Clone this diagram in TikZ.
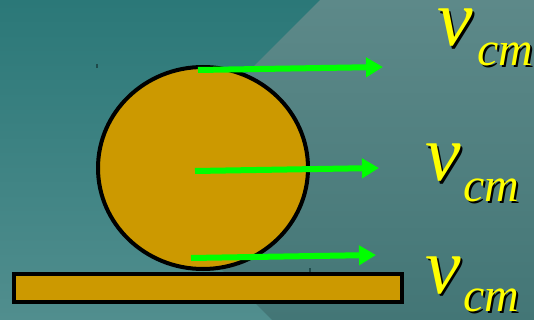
\documentclass[tikz,border=0pt]{standalone}
\usepackage{fontspec}
\setmainfont{Liberation Serif}
\usetikzlibrary{arrows.meta,shapes.geometric}
\definecolor{bgtop}{HTML}{2B7878}
\definecolor{bgbot}{HTML}{518E8E}
\definecolor{lttop}{HTML}{5D8989}
\definecolor{ltbot}{HTML}{437676}
\definecolor{gold}{HTML}{CC9900}
\definecolor{arrowgreen}{HTML}{00FF00}
\definecolor{labelyellow}{HTML}{FFFF00}
\definecolor{tickcol}{HTML}{1E4A4A}
\begin{document}
\begin{tikzpicture}[x=1pt,y=-1pt,
  vtxt/.style={anchor=base west, inner sep=0pt, font=\fontsize{80}{80}\selectfont\itshape},
  subtxt/.style={anchor=base west, inner sep=0pt, font=\fontsize{48}{48}\selectfont\itshape},
  vel/.style={draw=arrowgreen, line width=6pt, -{Triangle[length=17pt,width=19pt]}},
  goldshape/.style={draw=black, fill=gold, line width=4pt},
  tick/.style={draw=tickcol, line width=1.2pt}]
% background
\useasboundingbox (0,0) rectangle (534,320);
\shade[top color=bgtop, bottom color=bgbot] (0,0) rectangle (534,320);
\shade[top color=lttop, bottom color=ltbot] (320,0) -- (534,0) -- (534,320) -- (272,320) -- (136,184) -- cycle;
% small marks
\draw[tick] (97,64) -- (97,68);
\draw[tick] (310,268) -- (310,272);
% floor bar and wheel
\node[goldshape, ellipse, inner sep=0pt, minimum width=210pt, minimum height=202pt] (wheel) at (203,168) {};
\node[goldshape, rectangle, inner sep=0pt, minimum width=388pt, minimum height=28pt] (floor) at (208,288) {};
% velocity arrows
\coordinate (t1) at (198,70);  \coordinate (h1) at (383,67);
\coordinate (t2) at (195,171); \coordinate (h2) at (379,168);
\coordinate (t3) at (191,258); \coordinate (h3) at (376,255);
\draw[vel] (t1) -- (h1);
\draw[vel] (t2) -- (h2);
\draw[vel] (t3) -- (h3);
% labels with shadows
\node[vtxt, text=black] (v1s) at (439.5,48.5) {v};
\node[vtxt, text=labelyellow] (v1) at (437,46) {v};
\node[subtxt, text=black] (c1s) at (479,68) {cm};
\node[subtxt, text=labelyellow] (c1) at (477,66) {cm};
\node[vtxt, text=black] (v2s) at (427.5,183.5) {v};
\node[vtxt, text=labelyellow] (v2) at (425,181) {v};
\node[subtxt, text=black] (c2s) at (465,203) {cm};
\node[subtxt, text=labelyellow] (c2) at (463,201) {cm};
\node[vtxt, text=black] (v3s) at (427.5,295.5) {v};
\node[vtxt, text=labelyellow] (v3) at (425,293) {v};
\node[subtxt, text=black] (c3s) at (465,313) {cm};
\node[subtxt, text=labelyellow] (c3) at (463,311) {cm};
\end{tikzpicture}
\end{document}
